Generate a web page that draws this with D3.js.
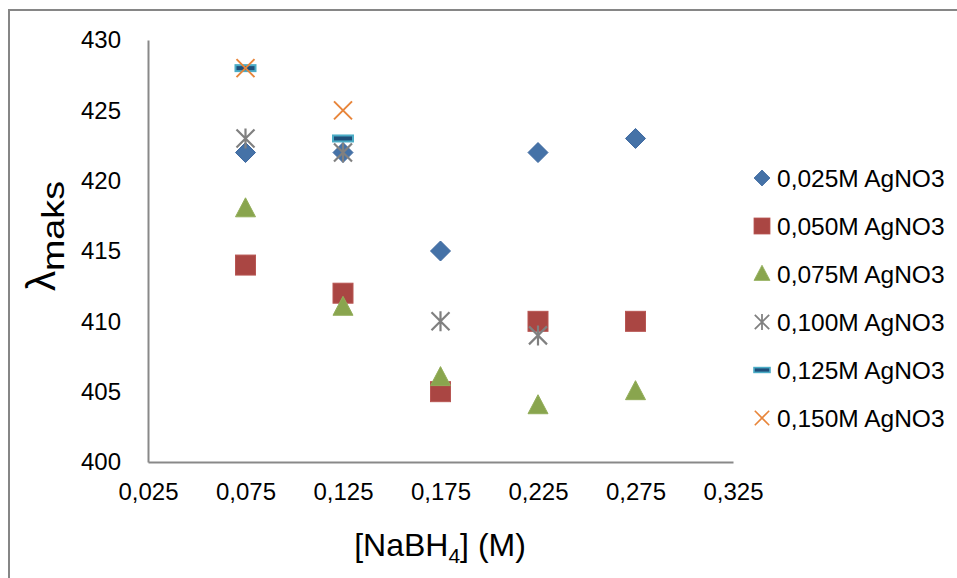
<!DOCTYPE html>
<html>
<head>
<meta charset="utf-8">
<script src="https://cdn.jsdelivr.net/npm/d3@7"></script>
<style>
  body { margin: 0; background: #fff; }
  svg { display: block; font-family: "Liberation Sans", Arial, sans-serif; }
</style>
</head>
<body>
<svg id="chart" width="957" height="578"></svg>
<script>
const xTicks = [0.025, 0.075, 0.125, 0.175, 0.225, 0.275, 0.325];
const yTicks = [400, 405, 410, 415, 420, 425, 430];

const seriesNames = ['0,025M AgNO3', '0,050M AgNO3', '0,075M AgNO3', '0,100M AgNO3', '0,125M AgNO3', '0,150M AgNO3'];
const nabh4 = [0.075, 0.125, 0.175, 0.225, 0.275];
const s025 = [422, 422, 415, 422, 423];
const s050 = [414, 412, 405, 410, 410];
const s075 = [418, 411, 406, 404, 405];
const s100 = [423, 422, 410, 409];
const s125 = [428, 423];
const s150 = [428, 425];
const allSeries = [s025, s050, s075, s100, s125, s150];
const markers = ['diamond', 'square', 'triangle', 'star', 'dash', 'cross'];

const svg = d3.select('#chart');

// outer chart frame (only top and left edges are in the picture)
svg.append('path')
  .attr('d', 'M9,1000 V10 H1000')
  .attr('fill', 'none')
  .attr('stroke', '#868686')
  .attr('stroke-width', 2);

const x = d3.scaleLinear().domain([0.025, 0.325]).range([148, 733]);
const y = d3.scaleLinear().domain([400, 430]).range([462, 40]);

const fmt = d => d3.format('.3f')(d).replace('.', ',');

const xAxis = svg.append('g')
  .attr('transform', 'translate(0,462)')
  .call(d3.axisBottom(x).tickValues(xTicks).tickFormat(fmt).tickSize(0).tickPadding(30));
const yAxis = svg.append('g')
  .attr('transform', 'translate(148,0)')
  .call(d3.axisLeft(y).tickValues(yTicks).tickSize(0).tickPadding(27));

[xAxis, yAxis].forEach(g => {
  g.select('.domain').attr('stroke', '#898989').attr('stroke-width', 2);
  g.selectAll('text').attr('font-size', 24).attr('fill', '#000')
    .attr('font-family', '"Liberation Sans", Arial, sans-serif');
});
xAxis.selectAll('text').attr('dy', '0.35em');

// axis titles
const xt = svg.append('text')
  .attr('x', 440).attr('y', 556)
  .attr('text-anchor', 'middle')
  .attr('font-size', 32);
xt.append('tspan').text('[NaBH');
xt.append('tspan').text('4').attr('font-size', 21).attr('dy', 7);
xt.append('tspan').text('] (M)').attr('dy', -7);

const yt = svg.append('text')
  .attr('transform', 'translate(55,236) rotate(-90)')
  .attr('text-anchor', 'middle');
yt.append('tspan').text('λ').attr('font-size', 40);
yt.append('tspan').text('maks').attr('font-size', 31).attr('dy', 9)
  .attr('textLength', 90).attr('lengthAdjust', 'spacingAndGlyphs');

function drawMarker(g, type) {
  if (type === 'diamond') {
    g.append('path').attr('d', 'M0,-10 L10,0 L0,10 L-10,0 Z')
      .attr('fill', '#4572A7').attr('stroke', '#3D68A0').attr('stroke-width', 1);
  } else if (type === 'square') {
    g.append('rect').attr('x', -10).attr('y', -10).attr('width', 20).attr('height', 20)
      .attr('fill', '#AA4643').attr('stroke', '#B85653').attr('stroke-width', 1);
  } else if (type === 'triangle') {
    g.append('path').attr('d', 'M0,-11 L10,8 L-10,8 Z')
      .attr('fill', '#89A54E').attr('stroke', '#93AE5A').attr('stroke-width', 1);
  } else if (type === 'star') {
    g.append('path').attr('d', 'M-9,-9 L9,9 M-9,9 L9,-9 M0,-10 L0,10')
      .attr('stroke', '#808080').attr('stroke-width', 2.2).attr('fill', 'none');
  } else if (type === 'dash') {
    g.append('rect').attr('x', -10).attr('y', -3).attr('width', 20).attr('height', 6)
      .attr('fill', '#1F4E79').attr('stroke', '#4BACC6').attr('stroke-width', 2);
  } else if (type === 'cross') {
    g.append('path').attr('d', 'M-9,-9 L9,9 M-9,9 L9,-9')
      .attr('stroke', '#E8853A').attr('stroke-width', 2).attr('fill', 'none');
  }
}

allSeries.forEach((vals, si) => {
  const pts = vals.map((v, i) => [nabh4[i], v]);
  svg.append('g').selectAll('g')
    .data(pts)
    .join('g')
    .attr('transform', d => `translate(${x(d[0])},${y(d[1])})`)
    .each(function () { drawMarker(d3.select(this), markers[si]); });
});

// legend
const legend = svg.append('g');
seriesNames.forEach((name, i) => {
  const row = legend.append('g').attr('transform', `translate(762,${178 + i * 48})`);
  drawMarker(row.append('g').attr('transform', 'scale(0.8)'), markers[i]);
  row.append('text').attr('x', 15).attr('dy', '0.35em')
    .attr('font-size', 24.5).text(name);
});
</script>
</body>
</html>
